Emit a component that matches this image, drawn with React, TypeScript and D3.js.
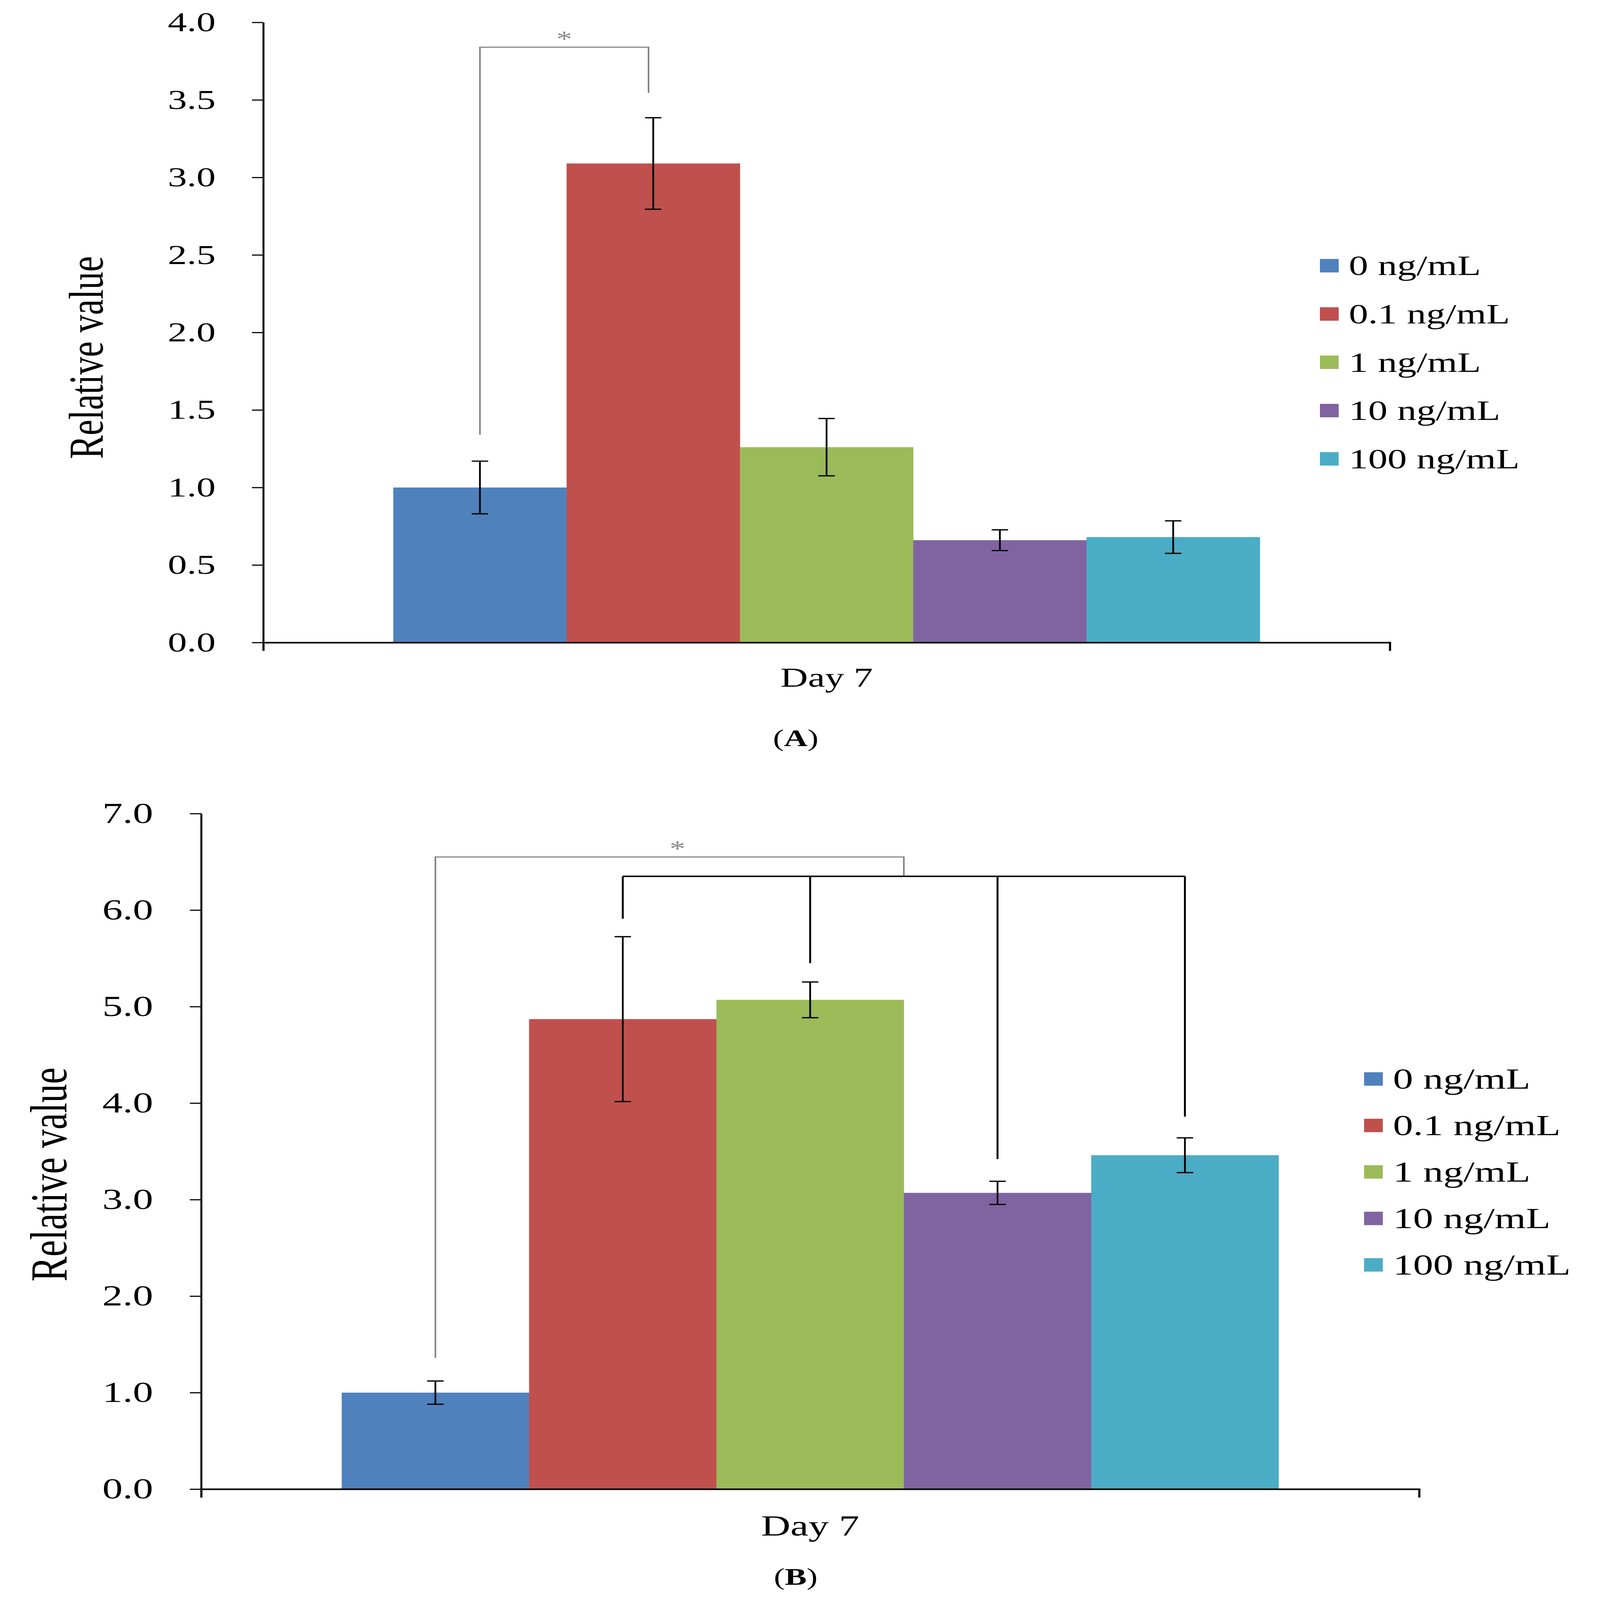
import React, { useEffect, useRef } from "react";
import * as d3 from "d3";

// ---- data ----
const categories = ["Day 7"];
const seriesLabels = ["0 ng/mL", "0.1 ng/mL", "1 ng/mL", "10 ng/mL", "100 ng/mL"];
const seriesColors = ["#4F81BD", "#C0504D", "#9BBB59", "#8064A2", "#4BACC6"];

const valuesA = [1.0, 3.09, 1.26, 0.66, 0.68];
const errorsA = [0.17, 0.295, 0.185, 0.067, 0.105];
const ticksA = [0, 0.5, 1.0, 1.5, 2.0, 2.5, 3.0, 3.5, 4.0];

const valuesB = [1.0, 4.87, 5.07, 3.07, 3.46];
const errorsB = [0.12, 0.855, 0.185, 0.12, 0.18];
const ticksB = [0, 1, 2, 3, 4, 5, 6, 7];

// significance brackets (values in data units)
const grayBracketA = { from: 0, to: 1, top: 3.84, ends: [1.34, 3.545] };
const grayBracketB = { from: 0, top: 6.55, ends: [1.36, 6.35] };
const blackBracketB = { series: [1, 2, 3, 4], top: 6.35, ends: [5.91, 5.45, 3.42, 3.86] };

const FONT = "'Liberation Serif', 'Times New Roman', serif";
const W = 4096;
const H = 5715;

type Panel = {
  label: string;
  values: number[];
  errors: number[];
  ticks: number[];
  yMax: number;
  x0: number;
  x1: number;
  y0: number;
  yTop: number;
  tickFont: number;
  tickPad: number;
  catFont: number;
  catPad: number;
  yLabelFont: number;
  yLabelX: number;
  yLabelY: number;
  legX: number;
  legY: number;
  legStep: number;
  legFont: number;
  capY: number;
  capX: number;
};

const panelA: Panel = {
  label: "A",
  values: valuesA,
  errors: errorsA,
  ticks: ticksA,
  yMax: 4,
  x0: 674,
  x1: 3558,
  y0: 2295,
  yTop: 80,
  tickFont: 98,
  tickPad: 93,
  catFont: 98,
  catPad: 88,
  yLabelFont: 126,
  yLabelX: 263,
  yLabelY: 1277,
  legX: 3379,
  legY: 949,
  legStep: 172.5,
  legFont: 99,
  capY: 2665,
  capX: 2037,
};

const panelB: Panel = {
  label: "B",
  values: valuesB,
  errors: errorsB,
  ticks: ticksB,
  yMax: 7,
  x0: 515,
  x1: 3633,
  y0: 5319,
  yTop: 2906,
  tickFont: 104,
  tickPad: 94,
  catFont: 104,
  catPad: 92,
  yLabelFont: 133,
  yLabelX: 170,
  yLabelY: 4195,
  legX: 3492,
  legY: 3854,
  legStep: 166,
  legFont: 103,
  capY: 5660,
  capX: 2037,
};

const drawPanel = (root: d3.Selection<SVGSVGElement, unknown, null, undefined>, p: Panel, brackets: (ctx: any) => void) => {
  const x = d3.scaleBand().domain(categories).range([p.x0, p.x1]).paddingInner(0).paddingOuter(0.15);
  const xs = d3.scaleBand().domain(seriesLabels).range([0, x.bandwidth()]).padding(0);
  const y = d3.scaleLinear().domain([0, p.yMax]).range([p.y0, p.yTop]);
  const cx = (i: number) => x(categories[0])! + xs(seriesLabels[i])! + xs.bandwidth() / 2;

  const g = root.append("g");

  // bars
  g.append("g")
    .selectAll("rect")
    .data(p.values)
    .join("rect")
    .attr("x", (_, i) => x(categories[0])! + xs(seriesLabels[i])!)
    .attr("y", (d) => y(d))
    .attr("width", xs.bandwidth() + 0.5)
    .attr("height", (d) => y(0) - y(d))
    .attr("fill", (_, i) => seriesColors[i]);

  // error bars
  const eb = g.append("g").attr("stroke", "#000").attr("stroke-width", 4.5);
  p.values.forEach((v, i) => {
    const hi = y(v + p.errors[i]);
    const lo = y(v - p.errors[i]);
    eb.append("line").attr("x1", cx(i)).attr("x2", cx(i)).attr("y1", hi).attr("y2", lo);
    eb.append("line").attr("x1", cx(i) - 21).attr("x2", cx(i) + 21).attr("y1", hi).attr("y2", hi);
    eb.append("line").attr("x1", cx(i) - 21).attr("x2", cx(i) + 21).attr("y1", lo).attr("y2", lo);
  });

  // Y axis
  g.append("g")
    .attr("transform", `translate(${p.x0},0)`)
    .call(
      d3
        .axisLeft(y)
        .tickValues(p.ticks)
        .tickFormat(d3.format(".1f"))
        .tickSize(29)
        .tickSizeOuter(0)
        .tickPadding(p.tickPad)
    )
    .attr("font-size", p.tickFont)
    .attr("font-family", FONT)
    .call((a) => a.select(".domain").attr("stroke", "#000").attr("stroke-width", 5))
    .call((a) => a.selectAll(".tick line").attr("stroke", "#000").attr("stroke-width", 4))
    .call((a) => a.selectAll(".tick text").attr("fill", "#000"));

  // X axis
  g.append("g")
    .attr("transform", `translate(0,${p.y0})`)
    .call(d3.axisBottom(x).tickSize(0).tickSizeOuter(30).tickPadding(p.catPad))
    .attr("font-size", p.catFont)
    .attr("font-family", FONT)
    .call((a) => a.select(".domain").attr("stroke", "#000").attr("stroke-width", 5.5))
    .call((a) => a.selectAll(".tick text").attr("fill", "#000"));

  // Y label
  g.append("text")
    .attr("transform", `translate(${p.yLabelX},${p.yLabelY}) rotate(-90)`)
    .attr("text-anchor", "middle")
    .attr("font-family", FONT)
    .attr("font-size", p.yLabelFont)
    .attr("fill", "#000")
    .text("Relative value");

  // legend
  const leg = g.append("g").attr("font-family", FONT).attr("font-size", p.legFont);
  seriesLabels.forEach((s, i) => {
    const yy = p.legY + i * p.legStep;
    leg.append("rect").attr("x", p.legX).attr("y", yy - 24).attr("width", 48).attr("height", 48).attr("fill", seriesColors[i]);
    leg
      .append("text")
      .attr("x", p.legX + 74)
      .attr("y", yy + p.legFont * 0.34)
      .attr("fill", "#000")
      .text(s);
  });

  // caption (A)/(B)
  const cap = g
    .append("text")
    .attr("x", p.capX)
    .attr("y", p.capY)
    .attr("text-anchor", "middle")
    .attr("font-family", FONT)
    .attr("font-size", 84)
    .attr("fill", "#000");
  cap.append("tspan").text("(");
  cap.append("tspan").attr("font-weight", "bold").text(p.label);
  cap.append("tspan").text(")");

  brackets({ g, y, cx });
};

const App = () => {
  const svgRef = useRef<SVGSVGElement | null>(null);
  // the drawing is laid out on a 4096x5715 canvas and scaled to whatever window we get
  const vw = typeof window !== "undefined" ? window.innerWidth : W;
  const vh = typeof window !== "undefined" ? window.innerHeight : H;

  useEffect(() => {
    const svg = d3.select(svgRef.current!);
    svg.selectAll("*").remove();
    svg.append("rect").attr("width", W).attr("height", H).attr("fill", "#fff");

    const star = (g: any, xPos: number, yPos: number) =>
      g
        .append("text")
        .attr("x", xPos)
        .attr("y", yPos - 2)
        .attr("text-anchor", "middle")
        .attr("font-family", FONT)
        .attr("font-size", 80)
        .attr("fill", "#8a8a8a")
        .text("*");

    drawPanel(svg, panelA, ({ g, y, cx }) => {
      const b = grayBracketA;
      const xl = cx(b.from);
      const xr = cx(b.to) - 12;
      g.append("path")
        .attr("d", `M${xl},${y(b.ends[0])}V${y(b.top)}H${xr}V${y(b.ends[1])}`)
        .attr("fill", "none")
        .attr("stroke", "#7f7f7f")
        .attr("stroke-width", 4);
      star(g, (xl + xr) / 2, y(b.top));
    });

    drawPanel(svg, panelB, ({ g, y, cx }) => {
      const bb = blackBracketB;
      const xs = bb.series.map((s) => cx(s));
      const mid = (xs[0] + xs[xs.length - 1]) / 2;
      const gb = grayBracketB;
      const xl = cx(gb.from);
      g.append("path")
        .attr("d", `M${xl},${y(gb.ends[0])}V${y(gb.top)}H${mid}V${y(gb.ends[1])}`)
        .attr("fill", "none")
        .attr("stroke", "#7f7f7f")
        .attr("stroke-width", 4);
      star(g, (xl + mid) / 2 + 20, y(gb.top));

      const blk = g.append("g").attr("stroke", "#000").attr("stroke-width", 5).attr("fill", "none");
      blk.append("line").attr("x1", xs[0]).attr("x2", xs[xs.length - 1]).attr("y1", y(bb.top)).attr("y2", y(bb.top));
      xs.forEach((xx, i) => {
        blk.append("line").attr("x1", xx).attr("x2", xx).attr("y1", y(bb.top)).attr("y2", y(bb.ends[i]));
      });
    });
  }, []);

  return (
    <svg
      ref={svgRef}
      width={vw}
      height={vh}
      viewBox={`0 0 ${W} ${H}`}
      preserveAspectRatio="none"
      style={{ position: "fixed", left: 0, top: 0, display: "block" }}
    />
  );
};

export default App;
